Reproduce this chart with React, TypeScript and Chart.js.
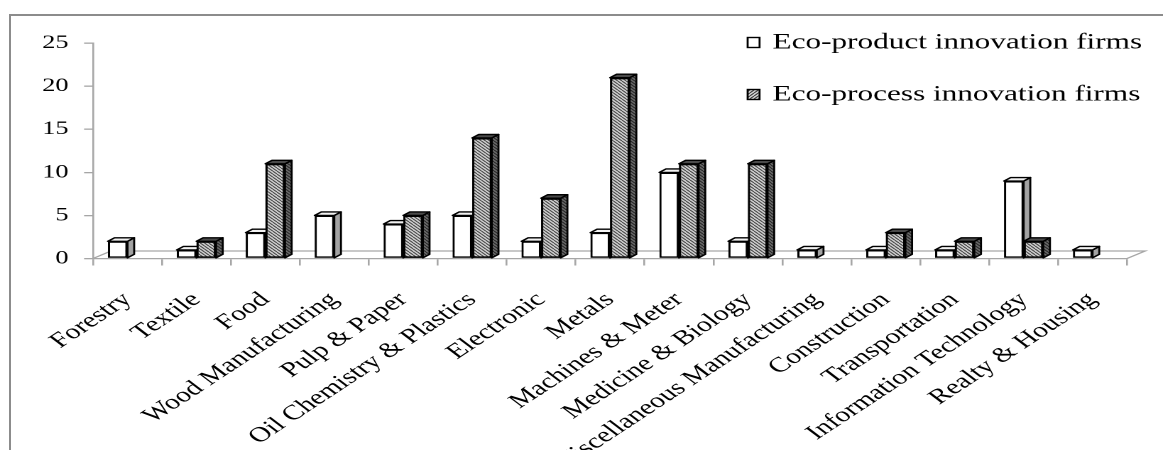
import React, { useEffect, useRef } from 'react';
import { Chart, registerables } from 'chart.js';

Chart.register(...registerables);

const categories = [
  'Forestry',
  'Textile',
  'Food',
  'Wood Manufacturing',
  'Pulp & Paper',
  'Oil Chemistry & Plastics',
  'Electronic',
  'Metals',
  'Machines & Meter',
  'Medicine & Biology',
  'Miscellaneous Manufacturing',
  'Construction',
  'Transportation',
  'Information Technology',
  'Realty & Housing',
];
const productFirms = [2, 1, 3, 5, 4, 5, 2, 3, 10, 2, 1, 1, 1, 9, 1];
const processFirms = [0, 2, 11, 0, 5, 14, 7, 21, 11, 11, 0, 3, 2, 2, 0];
const seriesNames = ['Eco-product innovation firms', 'Eco-process innovation firms'];
const yTicks = [0, 5, 10, 15, 20, 25];

const S = 1.42; // horizontal stretch of the picture
const W_INT = 1163 / S;
const AXIS_GRAY = '#a6a6a6';
const FONT = 'Liberation Serif, Times New Roman, serif';

const BAR_DX = 4.7;
const BAR_DY = 3.5;
const FLOOR_DX = 12.7;
const FLOOR_DY = 7.5;

function makeHatch(ctx: CanvasRenderingContext2D, bg: string, fg: string, dir: 'down' | 'up', tile = 6, lw = 1.6) {
  const c = document.createElement('canvas');
  c.width = tile;
  c.height = tile;
  const x = c.getContext('2d')!;
  x.fillStyle = bg;
  x.fillRect(0, 0, tile, tile);
  x.strokeStyle = fg;
  x.lineWidth = lw;
  x.beginPath();
  for (let k = -1; k <= 1; k++) {
    if (dir === 'down') {
      x.moveTo(k * tile, 0);
      x.lineTo(k * tile + tile, tile);
    } else {
      x.moveTo(k * tile, tile);
      x.lineTo(k * tile + tile, 0);
    }
  }
  x.stroke();
  const p = ctx.createPattern(c, 'repeat')!;
  try {
    p.setTransform(new DOMMatrix([0.5, 0, 0, 0.5, 0, 0]));
  } catch (e) {}
  return p;
}

function poly(ctx: CanvasRenderingContext2D, pts: number[][], fill: any) {
  ctx.beginPath();
  ctx.moveTo(pts[0][0], pts[0][1]);
  for (let i = 1; i < pts.length; i++) ctx.lineTo(pts[i][0], pts[i][1]);
  ctx.closePath();
  ctx.fillStyle = fill;
  ctx.fill();
  ctx.stroke();
}

export default function App() {
  const ref = useRef<HTMLCanvasElement>(null);

  useEffect(() => {
    document.body.style.margin = '0';
    const canvas = ref.current!;
    const ctx0 = canvas.getContext('2d')!;
    const hatchFront = makeHatch(ctx0, '#cfcfcf', '#3c3c3c', 'down');
    const hatchSide = makeHatch(ctx0, '#6a6a6a', '#222', 'down');
    const hatchLegend = makeHatch(ctx0, '#d6d6d6', '#333', 'up', 6, 1.8);

    const faceStyles = [
      { side: '#a3a3a3', top: '#f2f2f2' },
      { side: hatchSide, top: '#4a4a4a' },
    ];

    const drawFaces = (ctx: CanvasRenderingContext2D, el: any, style: any) => {
      const { x, y, base, width } = el.getProps(['x', 'y', 'base', 'width'], true);
      const l = x - width / 2;
      const r = x + width / 2;
      const t = Math.min(y, base);
      const b = Math.max(y, base);
      poly(ctx, [[r, t], [r + BAR_DX, t - BAR_DY], [r + BAR_DX, b - BAR_DY], [r, b]], style.side);
      poly(ctx, [[l, t], [l + BAR_DX, t - BAR_DY], [r + BAR_DX, t - BAR_DY], [r, t]], style.top);
    };

    const threeD = {
      id: 'threeD',
      beforeDatasetsDraw(chart: any) {
        const { ctx, chartArea } = chart;
        const { left, right, bottom } = chartArea;
        ctx.save();
        ctx.strokeStyle = AXIS_GRAY;
        ctx.lineWidth = 1.3;
        ctx.beginPath();
        ctx.moveTo(left, bottom);
        ctx.lineTo(left + FLOOR_DX, bottom - FLOOR_DY);
        ctx.lineTo(right + FLOOR_DX, bottom - FLOOR_DY);
        ctx.lineTo(right, bottom);
        ctx.stroke();
        ctx.restore();
      },
      afterDatasetsDraw(chart: any) {
        const ctx = chart.ctx;
        const m0 = chart.getDatasetMeta(0);
        const m1 = chart.getDatasetMeta(1);
        ctx.save();
        ctx.strokeStyle = '#000';
        ctx.lineWidth = 1.4;
        ctx.lineJoin = 'round';
        for (let i = 0; i < categories.length; i++) {
          if (productFirms[i]) drawFaces(ctx, m0.data[i], faceStyles[0]);
          if (processFirms[i]) {
            ctx.save();
            m1.data[i].draw(ctx);
            ctx.restore();
            ctx.strokeStyle = '#000';
            ctx.lineWidth = 1.4;
            drawFaces(ctx, m1.data[i], faceStyles[1]);
          }
        }
        ctx.restore();
      },
      afterDraw(chart: any) {
        const ctx = chart.ctx;
        ctx.save();
        const rows = [
          { y: 42.5, fill: '#ffffff' },
          { y: 94.5, fill: hatchLegend },
        ];
        rows.forEach((row, i) => {
          ctx.fillStyle = row.fill;
          ctx.strokeStyle = '#000';
          ctx.lineWidth = 1.4;
          ctx.fillRect(526.5, row.y - 5, 8.4, 10);
          ctx.strokeRect(526.5, row.y - 5, 8.4, 10);
          ctx.fillStyle = '#000';
          ctx.font = `22px ${FONT}`;
          ctx.textBaseline = 'middle';
          ctx.textAlign = 'left';
          ctx.fillText(seriesNames[i], 544, row.y);
        });
        ctx.restore();
      },
    };

    const chart = new Chart(canvas, {
      type: 'bar',
      data: {
        labels: categories,
        datasets: [
          {
            label: seriesNames[0],
            data: productFirms.map((v) => (v === 0 ? null : v)),
            backgroundColor: '#ffffff',
            borderColor: '#000',
            borderWidth: 1.6,
            borderSkipped: false,
            categoryPercentage: 0.57,
            barPercentage: 1.0,
          },
          {
            label: seriesNames[1],
            data: processFirms.map((v) => (v === 0 ? null : v)),
            backgroundColor: hatchFront as any,
            borderColor: '#000',
            borderWidth: 1.6,
            borderSkipped: false,
            categoryPercentage: 0.57,
            barPercentage: 1.0,
          },
        ],
      },
      options: {
        animation: false,
        responsive: true,
        maintainAspectRatio: false,
        devicePixelRatio: 2,
        layout: { padding: { top: 43.3, right: W_INT - 793.7, left: 0, bottom: 0 } },
        plugins: {
          legend: { display: false },
          tooltip: { enabled: false },
        },
        scales: {
          x: {
            offset: true,
            grid: {
              display: true,
              offset: true,
              drawOnChartArea: false,
              drawTicks: true,
              tickLength: 7,
              color: AXIS_GRAY,
              lineWidth: 1.3,
            },
            border: { display: true, color: AXIS_GRAY, width: 1.3 },
            ticks: {
              autoSkip: false,
              maxRotation: 43,
              minRotation: 43,
              padding: 22,
              color: '#000',
              font: { family: FONT, size: 21 },
            },
            afterFit: (s: any) => {
              s.height = 450 - 258.5;
            },
          },
          y: {
            min: 0,
            max: 25,
            afterBuildTicks: (s: any) => {
              s.ticks = yTicks.map((v) => ({ value: v }));
            },
            ticks: {
              padding: 11,
              color: '#000',
              font: { family: FONT, size: 18.5 },
            },
            grid: {
              drawOnChartArea: false,
              drawTicks: true,
              tickLength: 6.3,
              color: AXIS_GRAY,
              lineWidth: 1.3,
            },
            border: { display: true, color: AXIS_GRAY, width: 1.3 },
            afterFit: (s: any) => {
              s.width = 65.5;
            },
          },
        },
      },
      plugins: [threeD],
    });
    return () => chart.destroy();
  }, []);

  return (
    <>
      <div
        style={{
          position: 'absolute',
          left: 9,
          top: 14,
          right: 0,
          bottom: 0,
          borderTop: '2px solid #8c8c8c',
          borderLeft: '2px solid #8c8c8c',
        }}
      />
      <div
        style={{
          position: 'absolute',
          left: 0,
          top: 0,
          width: W_INT,
          height: 450,
          transform: `scaleX(${S})`,
          transformOrigin: '0 0',
        }}
      >
        <canvas ref={ref} />
      </div>
    </>
  );
}
